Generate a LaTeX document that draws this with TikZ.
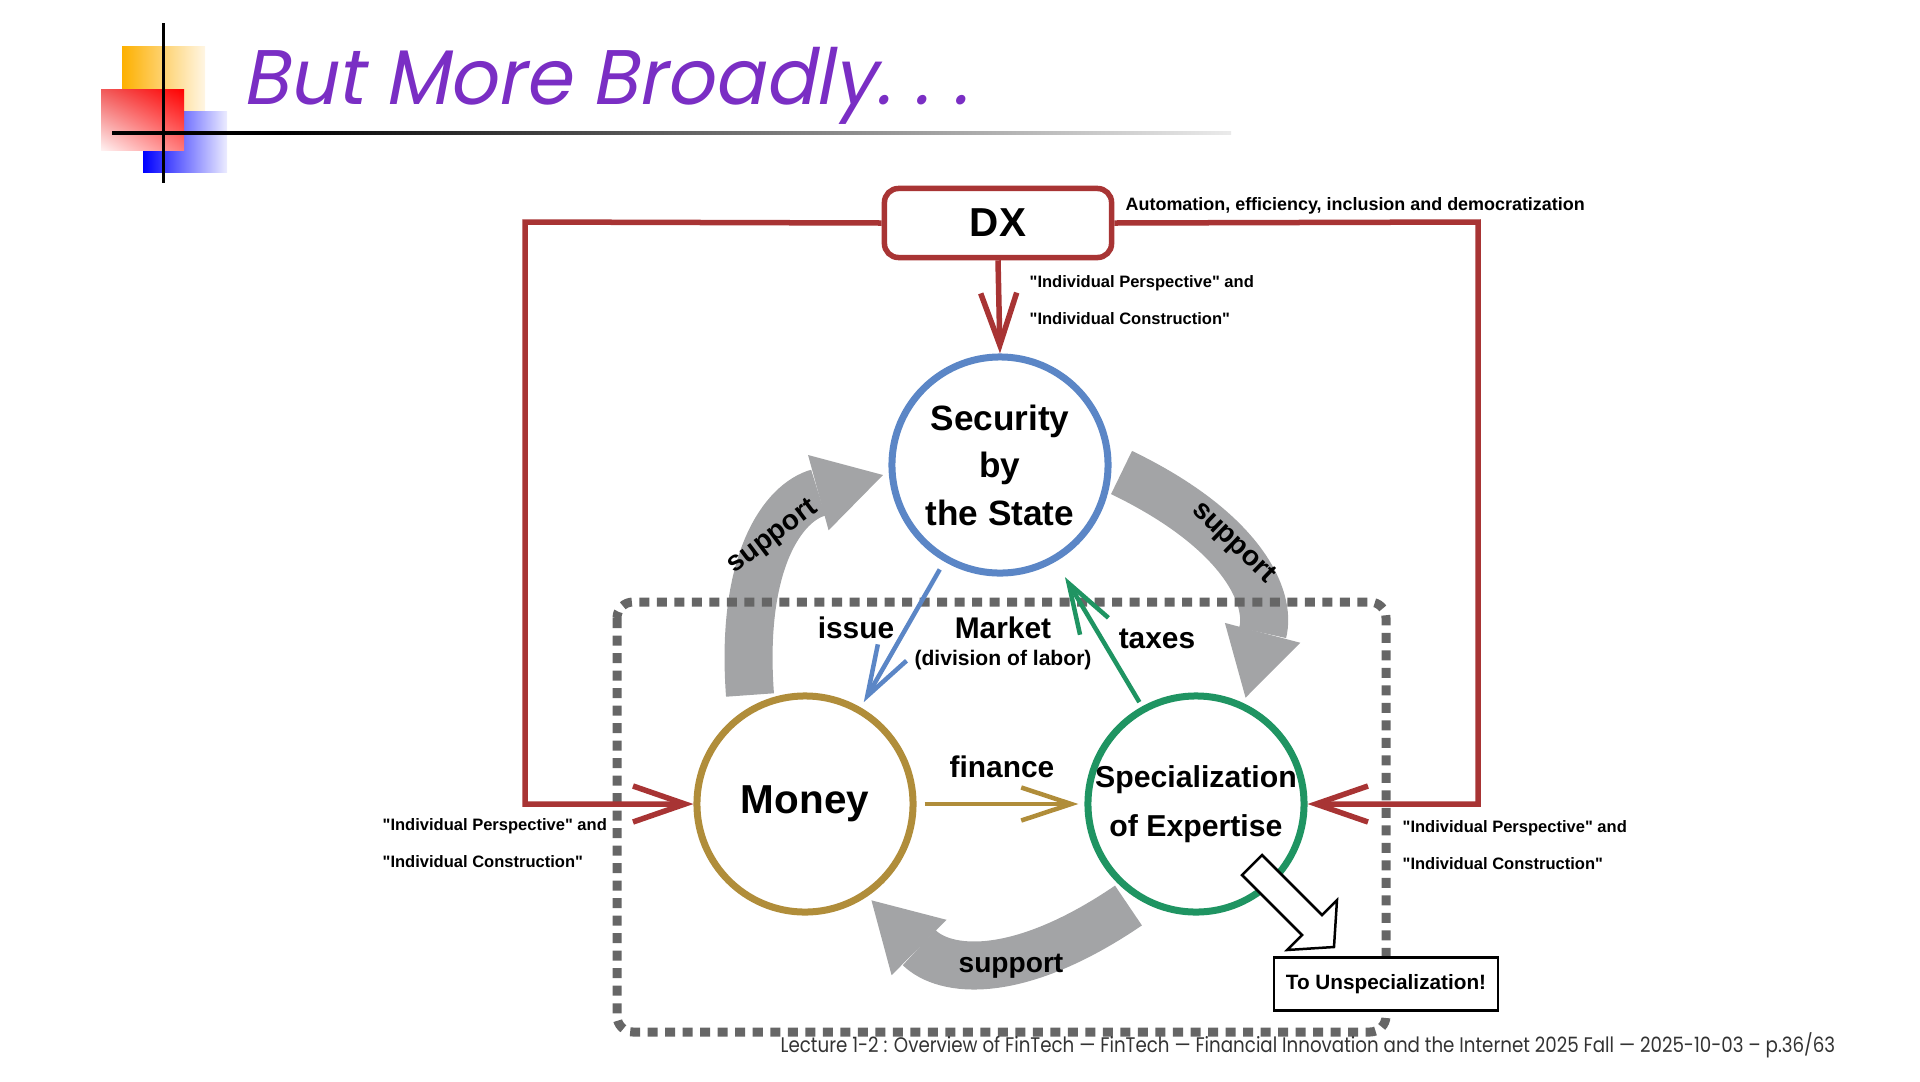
\documentclass[tikz,border=0pt]{standalone}
\usepackage{fontspec}
\setmainfont{Liberation Sans}
\newfontfamily\titlefont[FakeSlant=0.2]{Poppins}
\newfontfamily\footfont{Poppins}
\usetikzlibrary{arrows.meta}
\usetikzlibrary{shadings}
\usetikzlibrary{positioning}

\definecolor{dxred}{RGB}{168,52,52}
\definecolor{stateblue}{RGB}{91,134,198}
\definecolor{moneygold}{RGB}{176,141,58}
\definecolor{expgreen}{RGB}{31,148,98}
\definecolor{supgray}{RGB}{163,164,166}
\definecolor{boxgray}{RGB}{102,102,102}
\definecolor{titlepurple}{RGB}{122,46,196}
\definecolor{logoyellow}{RGB}{253,176,0}
\definecolor{logoyellowpale}{RGB}{255,246,228}
\definecolor{logobluepale}{RGB}{236,236,255}
\definecolor{logoredul}{RGB}{240,90,90}
\definecolor{logoredll}{RGB}{255,242,242}
\definecolor{logoredlr}{RGB}{255,120,120}

\newcommand{\qq}[1]{\textquotedbl#1\textquotedbl}

\begin{document}
\begin{tikzpicture}[x=0.01cm, y=-0.01cm,
    actor/.style={circle, draw, line width=0.07cm, fill=white, minimum size=2.16cm, inner sep=0pt, align=center},
    dxbox/.style={rectangle, rounded corners=0.14cm, draw=dxred, line width=0.055cm, fill=white, minimum width=2.27cm, minimum height=0.69cm},
    redarrow/.style={draw=dxred, line width=0.055cm, -{Straight Barb[length=0.52cm, width=0.36cm]}},
    flow/.style={line width=0.045cm, -{Straight Barb[length=0.5cm, width=0.33cm]}},
    support/.style={draw=supgray, line width=0.48cm, -{Triangle[length=0.67cm, width=0.78cm, line width=0pt]}},
    flowtext/.style={font=\fontsize{8.5}{10}\selectfont\bfseries},
    supporttext/.style={font=\fontsize{8}{10}\selectfont\bfseries},
    note/.style={font=\fontsize{4.7}{10.5}\selectfont\bfseries, align=left, anchor=west, inner sep=0pt}
]
\useasboundingbox (0,0) rectangle (1920,1081);

% --- Logo and title ---
\shade[left color=logoyellow, right color=logoyellowpale] (122,46) rectangle (205,128);
\shade[left color=blue, right color=logobluepale] (143,111) rectangle (227,172);
\shade[upper left=logoredul, upper right=red, lower left=logoredll, lower right=logoredlr] (101,89) rectangle (184,150);
\draw[line width=0.03cm] (163,23) -- (163,183);
\fill (112,131.3) rectangle (280,134.7);
\shade[left color=black, right color=black!8] (280,131.3) rectangle (1231,134.7);
\node[anchor=base west, inner sep=0pt, text=titlepurple, font=\titlefont\fontsize{22}{24}\selectfont] (title) at (242,104)
    {\scalebox{0.97}[1]{But More Broadly.\kern0.3em.\kern0.3em.}};

% --- Support cycle ---
\coordinate (hub) at (1000,691);
\foreach \ang in {0,-120,-240}
{
    \draw[support, rotate around={\ang:(hub)}] (750,695) .. controls (740,560) and (784,502) .. (883,475);
}
\node[supporttext, rotate=37] (sup1) at (773,537) {support};
\node[supporttext, rotate=-44] (sup2) at (1233,543) {support};
\node[supporttext] (sup3) at (1011,966) {support};

% --- Market box ---
\draw[boxgray, line width=0.09cm, dash pattern=on 0.1cm off 0.075cm, rounded corners=0.16cm] (617,602) rectangle (1386,1032);
\node[flowtext] (market) at (1003,628) {Market};
\node[font=\fontsize{6}{7}\selectfont\bfseries] (labor) at (1003,660) {(division of labor)};

% --- Actors ---
\node[dxbox, font=\fontsize{11.5}{13}\selectfont\bfseries] (dx) at (998,223) {DX};
\node[actor, draw=stateblue, font=\fontsize{10}{13.5}\selectfont\bfseries] (sec) at (1000,465) {Security\\by\\the State};
\node[actor, draw=moneygold, font=\fontsize{11.5}{13}\selectfont\bfseries] (money) at (805,804) {Money};
\node[actor, draw=expgreen, font=\fontsize{8.6}{13.9}\selectfont\bfseries] (spec) at (1196,804) {Specialization\\of Expertise};

% --- DX influence ---
\coordinate (lft) at (525,222);
\coordinate (rgt) at (1478,222);
\draw[redarrow] (dx.south) -- (sec.north);
\draw[redarrow] (dx.west) -- (lft) |- (money.west);
\draw[redarrow] (dx.east) -- (rgt) |- (spec.east);
\node[note, font=\fontsize{5.1}{6}\selectfont\bfseries] (auto) at (1125,206) {Automation, efficiency, inclusion and democratization};
\node[note] (ptop) at (1029,300) {\qq{Individual Perspective} and\\\qq{Individual Construction}};
\node[note] (pleft) at (382,843) {\qq{Individual Perspective} and\\\qq{Individual Construction}};
\node[note] (pright) at (1402,845) {\qq{Individual Perspective} and\\\qq{Individual Construction}};

% --- Flows between actors ---
\draw[flow, draw=stateblue, shorten <=0.09cm, shorten >=0.06cm] (sec.240) -- (money.60);
\draw[flow, draw=expgreen, shorten <=0.05cm, shorten >=0.18cm] (spec.119) -- (sec.-60);
\draw[flow, draw=moneygold, shorten <=0.08cm, shorten >=0.06cm] (money.east) -- (spec.west);
\node[flowtext] (issue) at (856,628) {issue};
\node[flowtext] (taxes) at (1157,639) {taxes};
\node[flowtext] (finance) at (1002,767) {finance};

% --- Way out ---
\draw[fill=white, line width=0.025cm, line join=miter] (1242,875) -- (1302,935) -- (1287,950) -- (1334,947) -- (1337,900) -- (1322,915) -- (1262,855) -- cycle;
\node[draw, fill=white, line width=0.025cm, minimum width=2.2cm, minimum height=0.53cm, font=\fontsize{5.9}{7}\selectfont\bfseries] (unspec) at (1386,984) {To Unspecialization!};

% --- Footer ---
\node[anchor=base west, inner sep=0pt, text=black!80, font=\footfont\fontsize{6}{7}\selectfont] (foot) at (780,1052)
    {\scalebox{0.865}[1]{Lecture 1-2 : Overview of FinTech — FinTech — Financial Innovation and the Internet 2025 Fall — 2025-10-03 – p.36/63}};

\end{tikzpicture}
\end{document}
